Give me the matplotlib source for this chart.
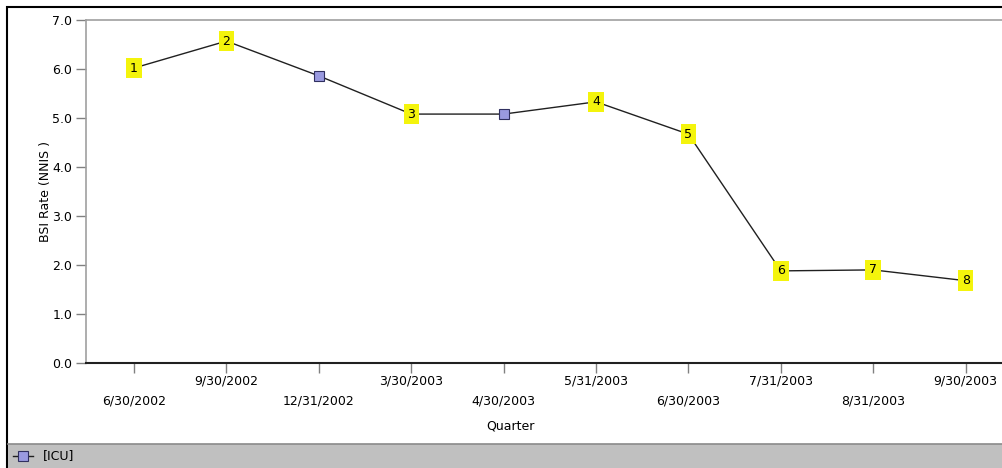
import matplotlib
matplotlib.use("Agg")
import matplotlib.pyplot as plt
from matplotlib.patches import Rectangle
from matplotlib.lines import Line2D

quarters = ["6/30/2002", "9/30/2002", "12/31/2002", "3/30/2003", "4/30/2003",
            "5/31/2003", "6/30/2003", "7/31/2003", "8/31/2003", "9/30/2003"]
bsi_rate = [6.02, 6.57, 5.86, 5.08, 5.08, 5.33, 4.67, 1.88, 1.90, 1.68]
annotations = ["1", "2", "", "3", "", "4", "5", "6", "7", "8"]
y_ticks = [0.0, 1.0, 2.0, 3.0, 4.0, 5.0, 6.0, 7.0]

plt.rcParams['font.family'] = ['DejaVu Sans']
FS = 9.0

W, H = 1002, 468
fig = plt.figure(figsize=(W / 100, H / 100), dpi=100)
fig.patch.set_facecolor("white")

# outer frame
fig.add_artist(Rectangle((7 / W, 0), 1.2, (H - 7) / H, transform=fig.transFigure,
                         fill=False, edgecolor="black", linewidth=1.5))
# legend band
fig.add_artist(Rectangle((8 / W, 0), 1.0, (468 - 444) / H, transform=fig.transFigure,
                         facecolor="#c0c0c0", edgecolor="none"))
fig.add_artist(Line2D([8 / W, 1], [(468 - 443.5) / H] * 2, transform=fig.transFigure,
                      color="#8a8a8a", linewidth=1.2))

left, right, top, bottom = 86, 1010, 20, 363
ax = fig.add_axes([left / W, (H - bottom) / H, (right - left) / W, (bottom - top) / H])
ax.set_facecolor("white")

x = list(range(len(quarters)))
ax.plot(x, bsi_rate, color="#202020", linewidth=1.0, zorder=2)
for xi, yi, lab in zip(x, bsi_rate, annotations):
    if lab:
        ax.text(xi, yi, lab, ha="center", va="center", fontsize=FS, color="black", zorder=4,
                bbox=dict(boxstyle="square,pad=0.3", facecolor="#f4f40c", edgecolor="none"))
    else:
        ax.plot([xi], [yi], marker="s", markersize=7, markerfacecolor="#9a9ae0",
                markeredgecolor="#303060", markeredgewidth=0.8, zorder=3)

ax.set_xlim(-0.52, 9.48)
ax.set_ylim(0, 7)
ax.set_yticks(y_ticks)
ax.set_yticklabels([f"{v:.1f}" for v in y_ticks], fontsize=FS)
ax.set_xticks(x)
ax.set_xticklabels([])
for xi, q in zip(x, quarters):
    off = -22.5 if xi % 2 == 0 else -8.5
    ax.annotate(q, xy=(xi, 0), xycoords=("data", "axes fraction"),
                xytext=(0, off), textcoords="offset points",
                ha="center", va="top", fontsize=FS)

ax.tick_params(axis="both", colors="#808080", labelcolor="black", length=7, width=1)
ax.tick_params(axis="y", pad=3)
for s in ["left", "top"]:
    ax.spines[s].set_color("#a0a0a0")
    ax.spines[s].set_linewidth(1.2)
ax.spines["bottom"].set_color("#202020")
ax.spines["bottom"].set_linewidth(1.5)
ax.spines["right"].set_visible(False)

fig.text(45 / W, 1 - 192 / H, "BSI Rate (NNIS )", rotation=90, ha="center", va="center", fontsize=FS)
fig.text(510 / W, 1 - 426 / H, "Quarter", ha="center", va="center", fontsize=FS)

# legend
fig.add_artist(Line2D([13 / W, 33 / W], [1 - 456 / H] * 2, transform=fig.transFigure,
                      color="#202020", linewidth=1.0))
fig.add_artist(Line2D([22.5 / W], [1 - 456 / H], transform=fig.transFigure, marker="s",
                      markersize=7, markerfacecolor="#9a9ae0", markeredgecolor="#303060",
                      markeredgewidth=0.8))
fig.text(43 / W, 1 - 456 / H, "[ICU]", ha="left", va="center", fontsize=FS)

fig.savefig("out.png", dpi=100)
